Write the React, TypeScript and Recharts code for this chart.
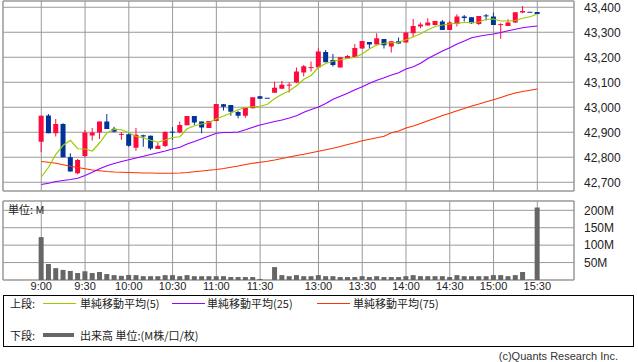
import {Bar, CartesianGrid, ComposedChart, Line, ReferenceArea, XAxis, YAxis} from "recharts";

// 5分足スロット (前場 9:00-11:30, 昼休み1枠, 後場 12:30-15:30)
const slotTimes = [
    "9:00", "9:05", "9:10", "9:15", "9:20", "9:25", "9:30", "9:35", "9:40", "9:45", "9:50", "9:55",
    "10:00", "10:05", "10:10", "10:15", "10:20", "10:25", "10:30", "10:35", "10:40", "10:45", "10:50", "10:55",
    "11:00", "11:05", "11:10", "11:15", "11:20", "11:25", "11:30",
    "",
    "12:30", "12:35", "12:40", "12:45", "12:50", "12:55",
    "13:00", "13:05", "13:10", "13:15", "13:20", "13:25", "13:30", "13:35", "13:40", "13:45", "13:50", "13:55",
    "14:00", "14:05", "14:10", "14:15", "14:20", "14:25", "14:30", "14:35", "14:40", "14:45", "14:50", "14:55",
    "15:00", "15:05", "15:10", "15:15", "15:20", "15:25", "15:30",
];

const tickSlots = [0, 6, 12, 18, 24, 30, 38, 44, 50, 56, 62, 68];
const priceTicks = [42700, 42800, 42900, 43000, 43100, 43200, 43300, 43400];
const volumeTicks = [50, 100, 150, 200];

const opens = [
    42862, 42967, 42896, 42933, 42800, 42736, 42805, 42887, 42899, 42943, 42914, 42890, 42892, 42838, 42888, 42886,
    42833, 42845, 42902, 42899, 42928, 42965, 42943, 42917, 42945, 43012, 43009, 42981, 42966, 42996, 43044, 43036,
    43058, 43074, 43087, 43099, 43139, 43157, 43159, 43221, 43189, 43159, 43196, 43200, 43235, 43261, 43251, 43273,
    43243, 43264, 43259, 43296, 43323, 43327, 43329, 43343, 43309, 43333, 43363, 43360, 43333, 43367, 43363, 43329,
    43325, 43339, 43379, 43380, 43381,
];
const highs = [
    42967, 42973, 42953, 42936, 42816, 42793, 42909, 42917, 42943, 42973, 42922, 42901, 42896, 42917, 42890, 42887,
    42858, 42904, 42921, 42943, 42965, 42965, 42943, 42945, 43013, 43013, 43009, 42985, 43000, 43040, 43044, 43036,
    43102, 43105, 43100, 43159, 43169, 43183, 43236, 43229, 43213, 43200, 43209, 43253, 43265, 43261, 43296, 43273,
    43264, 43279, 43299, 43353, 43339, 43356, 43346, 43349, 43345, 43372, 43369, 43360, 43365, 43373, 43379, 43336,
    43352, 43380, 43405, 43380, 43381,
];
const lows = [
    42820, 42896, 42883, 42800, 42743, 42732, 42800, 42867, 42873, 42913, 42900, 42870, 42842, 42826, 42842, 42829,
    42833, 42840, 42870, 42896, 42928, 42929, 42896, 42917, 42944, 42987, 42966, 42956, 42958, 42996, 43034, 43036,
    43058, 43074, 43059, 43096, 43123, 43143, 43159, 43180, 43163, 43159, 43196, 43200, 43235, 43236, 43251, 43235,
    43219, 43255, 43259, 43280, 43316, 43327, 43327, 43309, 43309, 43323, 43343, 43334, 43329, 43347, 43329, 43274,
    43325, 43337, 43376, 43380, 43373,
];
const closes = [
    42966, 42896, 42933, 42800, 42743, 42789, 42899, 42899, 42943, 42913, 42902, 42893, 42846, 42890, 42883, 42835,
    42846, 42901, 42899, 42929, 42965, 42939, 42919, 42945, 43013, 43002, 42982, 42966, 43000, 43040, 43034, 43036,
    43078, 43090, 43090, 43143, 43164, 43160, 43223, 43180, 43169, 43200, 43205, 43237, 43265, 43251, 43276, 43248,
    43264, 43255, 43299, 43325, 43331, 43339, 43345, 43309, 43339, 43363, 43357, 43336, 43365, 43364, 43329, 43332,
    43339, 43380, 43385, 43380, 43373,
];

const ma5 = [
    42721, 42760, 42812, 42848, 42868, 42834, 42833, 42825, 42858, 42897, 42912, 42910, 42898, 42883, 42878, 42868,
    42860, 42869, 42879, 42882, 42914, 42926, 42933, 42939, 42954, 42965, 42977, 42990, 42999, 43002, 43004, 43012,
    43035, 43052, 43066, 43086, 43112, 43127, 43160, 43175, 43184, 43190, 43195, 43200, 43213, 43234, 43249, 43256,
    43258, 43260, 43270, 43282, 43294, 43310, 43323, 43329, 43333, 43336, 43339, 43339, 43341, 43352, 43353, 43345,
    43345, 43347, 43356, 43362, 43373,
];
const ma25 = [
    42691, 42696, 42703, 42707, 42711, 42716, 42727, 42740, 42754, 42766, 42775, 42783, 42790, 42797, 42804, 42811,
    42818, 42825, 42833, 42840, 42853, 42863, 42874, 42885, 42896, 42899, 42899, 42901, 42910, 42920, 42929, 42936,
    42943, 42949, 42957, 42966, 42980, 42991, 43001, 43015, 43032, 43044, 43056, 43070, 43082, 43096, 43108, 43118,
    43129, 43138, 43153, 43162, 43176, 43195, 43210, 43225, 43238, 43253, 43265, 43278, 43284, 43289, 43293, 43299,
    43306, 43312, 43318, 43322, 43325,
];
const ma75 = [
    42783, 42780, 42776, 42770, 42764, 42759, 42754, 42749, 42746, 42743, 42741, 42740, 42739, 42738, 42737, 42737,
    42736, 42736, 42736, 42737, 42739, 42742, 42745, 42748, 42751, 42755, 42760, 42765, 42771, 42776, 42780, 42784,
    42789, 42795, 42801, 42807, 42812, 42818, 42824, 42830, 42836, 42843, 42851, 42858, 42866, 42872, 42878, 42884,
    42898, 42905, 42917, 42925, 42935, 42946, 42956, 42967, 42976, 42986, 42995, 43005, 43013, 43022, 43030, 43039,
    43049, 43057, 43063, 43068, 43073,
];

// 出来高 (M)
const volumes = [
    123, 46, 34, 29, 26, 20, 25, 20, 23, 17, 14, 12, 14, 14, 11, 11, 11, 14, 14, 11, 14, 11, 11, 11, 11, 11,
    8.5, 8.5, 8.5, 8.5, 3,
    0,
    37, 14, 11, 14, 11, 11, 14, 11, 11, 8.5, 8.5, 8.5, 11, 8.5, 11, 8.5, 8.5, 8.5, 11, 14, 11, 11, 11, 11, 8.5,
    14, 11, 11, 11, 11, 14, 14, 11, 14, 23, 1, 208,
];

const RED = "#ff0a3c";
const BLUE = "#003399";
const GRID = "#999999";
const FONT = "'Liberation Sans', Arial, sans-serif";
const JP = "'Noto Sans CJK JP', sans-serif";
const X_DOMAIN: [number, number] = [-5.25, 73.03];

const data = slotTimes.map((t, i) => ({
    i,
    t,
    range: [lows[i], highs[i]],
    open: opens[i],
    close: closes[i],
    ma5: ma5[i],
    ma25: ma25[i],
    ma75: ma75[i],
    vol: volumes[i],
}));

function Candle(props: any) {
    const {x, y, width, height, payload} = props;
    const [low, high] = payload.range;
    const top = height < 0 ? y + height : y;
    const h = Math.abs(height);
    const span = high - low;
    const toY = (v: number) => (span === 0 ? top : top + ((high - v) / span) * h);
    const color = payload.close > payload.open ? RED : BLUE;
    const cx = x + width / 2;
    const yo = toY(payload.open);
    const yc = toY(payload.close);
    const bodyH = Math.max(Math.abs(yo - yc), 1);
    const bodyY = Math.abs(yo - yc) < 1 ? (yo + yc) / 2 - 0.5 : Math.min(yo, yc);
    return (
        <g>
            <line x1={cx} x2={cx} y1={toY(high)} y2={toY(low)} stroke={color} strokeWidth={1}/>
            <rect x={x} y={bodyY} width={width} height={bodyH} fill={color}/>
        </g>
    );
}

function LegendLine({left, top, color, thick}: { left: number; top: number; color: string; thick?: boolean }) {
    return (
        <div style={{
            position: "absolute", left, top: top - (thick ? 2 : 0.5), width: thick ? 31 : 33,
            height: thick ? 4 : 1, background: color,
        }}/>
    );
}

function LegendText({left, top, children}: { left: number; top: number; children: string }) {
    return (
        <div style={{position: "absolute", left, top: top - 8, fontSize: 11, lineHeight: "16px", color: "#222", fontFamily: JP, whiteSpace: "nowrap"}}>
            {children}
        </div>
    );
}

export default function App() {
    const tickStyle = {fontSize: 12, fill: "#222", fontFamily: FONT};
    return (
        <div style={{position: "absolute", left: 0, top: 0, width: 638, height: 362, background: "#fff"}}>
            <div style={{position: "absolute", left: 0, top: 0}}>
                <ComposedChart width={638} height={192} data={data} margin={{top: 1, right: 0, bottom: 1, left: 3}}>
                    <CartesianGrid stroke={GRID}/>
                    <XAxis dataKey="i" type="number" domain={X_DOMAIN} ticks={tickSlots} interval={0} hide allowDataOverflow/>
                    <YAxis
                        orientation="right"
                        domain={[42665, 43425]}
                        ticks={priceTicks}
                        interval={0}
                        width={64}
                        axisLine={false}
                        tickLine={false}
                        tickMargin={4}
                        tick={tickStyle}
                        tickFormatter={(v: number) => v.toLocaleString("en-US")}
                        allowDataOverflow
                    />
                    <ReferenceArea x1={X_DOMAIN[0]} x2={X_DOMAIN[1]} y1={42665} y2={43425} fill="none" stroke={GRID}/>
                    <Bar dataKey="range" barSize={5} shape={Candle} isAnimationActive={false}/>
                    <Line dataKey="ma75" stroke="#ff3300" strokeWidth={1.2} dot={false} isAnimationActive={false}/>
                    <Line dataKey="ma25" stroke="#9900ff" strokeWidth={1.2} dot={false} isAnimationActive={false}/>
                    <Line dataKey="ma5" stroke="#99cc00" strokeWidth={1.2} dot={false} isAnimationActive={false}/>
                </ComposedChart>
            </div>

            <div style={{position: "absolute", left: 0, top: 200}}>
                <ComposedChart width={638} height={100} data={data} margin={{top: 1, right: 0, bottom: 0, left: 3}}>
                    <CartesianGrid stroke={GRID}/>
                    <XAxis
                        dataKey="i"
                        type="number"
                        domain={X_DOMAIN}
                        ticks={tickSlots}
                        interval={0}
                        height={20}
                        axisLine={false}
                        tickLine={false}
                        tickSize={0}
                        tickMargin={2}
                        tick={{...tickStyle, fontSize: 11}}
                        tickFormatter={(v: number) => slotTimes[v]}
                        allowDataOverflow
                    />
                    <YAxis
                        orientation="right"
                        domain={[0, 226.7]}
                        ticks={volumeTicks}
                        interval={0}
                        width={64}
                        axisLine={false}
                        tickLine={false}
                        tickMargin={4}
                        tick={tickStyle}
                        tickFormatter={(v: number) => `${v}M`}
                        allowDataOverflow
                    />
                    <ReferenceArea x1={X_DOMAIN[0]} x2={X_DOMAIN[1]} y1={0} y2={226.7} fill="none" stroke={GRID}/>
                    <Bar dataKey="vol" barSize={5} fill="#666666" isAnimationActive={false}/>
                </ComposedChart>
            </div>
            <div style={{position: "absolute", left: 8, top: 202, fontSize: 11, lineHeight: "14px", color: "#222", fontFamily: JP}}>
                単位: M
            </div>

            <div style={{position: "absolute", left: 3, top: 295, width: 629, height: 50, border: "1px solid #000"}}>
                <LegendText left={6} top={7}>上段:</LegendText>
                <LegendLine left={39} top={7} color="#99cc00"/>
                <LegendText left={76} top={7}>単純移動平均(5)</LegendText>
                <LegendLine left={168} top={7} color="#9900ff"/>
                <LegendText left={203} top={7}>単純移動平均(25)</LegendText>
                <LegendLine left={313} top={7} color="#ff3300"/>
                <LegendText left={349} top={7}>単純移動平均(75)</LegendText>
                <LegendText left={6} top={39}>下段:</LegendText>
                <LegendLine left={39} top={39} color="#666666" thick/>
                <LegendText left={76} top={39}>出来高 単位:(M株/口/枚)</LegendText>
            </div>
            <div style={{position: "absolute", right: 20, top: 349, fontSize: 11, lineHeight: "14px", color: "#333", fontFamily: FONT}}>
                (c)Quants Research Inc.
            </div>
        </div>
    );
}
